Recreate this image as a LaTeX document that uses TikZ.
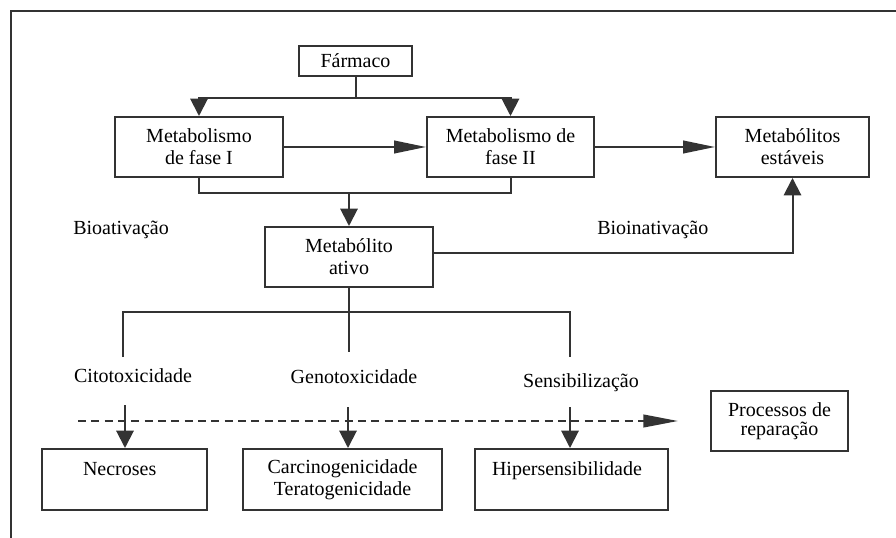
\documentclass[tikz,border=0pt]{standalone}
\usepackage{fontspec}
\setmainfont{Liberation Serif}
\usetikzlibrary{arrows.meta}
\definecolor{linec}{HTML}{333333}
\begin{document}
\begin{tikzpicture}[x=0.75pt,y=-0.75pt,
  every node/.style={font=\fontsize{15}{16.5}\selectfont},
  box/.style={draw=linec, line width=1.5pt, inner sep=2pt, align=center, minimum height=45pt},
  ln/.style={draw=linec, line width=1.5pt},
  varrow/.style={ln, -{Triangle[length=13pt,width=13pt]}},
  harrow/.style={ln, -{Triangle[length=24pt,width=9.5pt]}},
  dasharrow/.style={ln, dash pattern=on 6pt off 4pt, -{Triangle[length=26pt,width=9.5pt]}},
  lbl/.style={anchor=base, inner sep=0pt}]
\useasboundingbox (0,0) rectangle (896,538);
\draw[ln, line width=1.7pt] (11,538) -- (11,11) -- (896,11);

% boxes
\node[box, minimum width=84.75pt, minimum height=22.5pt] (farm) at (355.5,61) {Fármaco};
\node[box, minimum width=126pt] (f1) at (199,147) {Metabolismo\\de fase I};
\node[box, minimum width=125.25pt] (f2) at (510.5,147) {Metabolismo de\\fase II};
\node[box, minimum width=114.75pt] (est) at (792.5,147) {Metabólitos\\estáveis};
\node[box, minimum width=126pt] (ativo) at (349,257) {Metabólito\\ativo};
\node[box, minimum width=102.75pt] (proc) at (779.5,421) {Processos de\\[-2pt]reparação};
\node[box, minimum width=123.75pt, minimum height=45.75pt, text width=62.25pt, inner xsep=30.75pt, align=left] (nec) at (124.5,479.5) {Necroses\\\mbox{}};
\node[box, minimum width=149.25pt, minimum height=45.75pt] (car) at (342.5,479.5) {Carcinogenicidade\\Teratogenicidade};
\node[box, minimum width=144.75pt, minimum height=45.75pt, text width=119.25pt, inner xsep=12.75pt, align=left] (hip) at (571.5,479.5) {Hipersensibilidade\\\mbox{}};

% labels
\node[lbl, anchor=base west] (bioat) at (73,235) {Bioativação};
\node[lbl, anchor=base west] (bioin) at (597,235) {Bioinativação};
\node[lbl] (cito) at (133,382) {Citotoxicidade};
\node[lbl] (geno) at (354,383) {Genotoxicidade};
\node[lbl] (sens) at (581,387) {Sensibilização};

% top connectors
\coordinate (split) at (355.5,98);
\draw[ln] (farm.south) -- (split);
\draw[varrow] (split) -| (f1.north);
\draw[varrow] (split) -| (f2.north);
\draw[harrow] (f1.east) -- (f2.west);
\draw[harrow] (f2.east) -- (est.west);
\coordinate (join) at (349,193);
\draw[ln] (f1.south) |- (join) -| (f2.south);
\draw[varrow] (join) -- (ativo.north);
\draw[varrow] ([yshift=3pt]ativo.east) -| (est.south);

% tree below active metabolite
\coordinate (tm) at (349,312);
\coordinate (tl) at (123,357);
\coordinate (tr) at (570,357);
\coordinate (tb) at (349,352);
\draw[ln] (ativo.south) -- (tb);
\draw[ln] (tl) |- (tm) -| (tr);

% dashed repair arrow
\coordinate (d0) at (78,421);
\coordinate (d1) at (678,421);
\draw[dasharrow] (d0) -- (d1);

% arrows to effects
\coordinate (a1) at (125,405);
\coordinate (a2) at (348,407);
\coordinate (a3) at (570,407);
\draw[varrow] (a1) -- (a1 |- nec.north);
\draw[varrow] (a2) -- (a2 |- car.north);
\draw[varrow] (a3) -- (a3 |- hip.north);
\end{tikzpicture}
\end{document}
